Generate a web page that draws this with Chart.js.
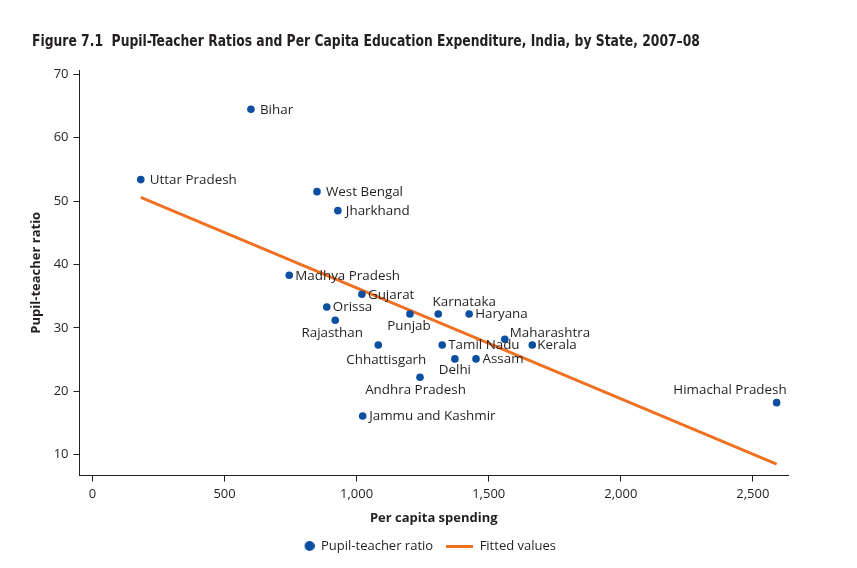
<!DOCTYPE html>
<html><head><meta charset="utf-8">
<script src="https://cdn.jsdelivr.net/npm/chart.js@4.4.1/dist/chart.umd.min.js"></script>
<style>
html,body{margin:0;padding:0;background:#fff;}
#wrap{position:relative;width:857px;height:568px;overflow:hidden;}
#title{position:absolute;left:32px;top:31px;font-family:"Liberation Sans Narrow","DejaVu Sans Condensed",sans-serif;font-weight:bold;font-size:15px;line-height:20px;color:#231f20;white-space:nowrap;transform:scaleX(0.916);transform-origin:0 50%;}
canvas{position:absolute;left:0;top:0;}
</style></head><body>
<div id="wrap"><canvas id="c" width="857" height="568"></canvas><div id="title">Figure 7.1&nbsp;&nbsp;Pupil-Teacher Ratios and Per Capita Education Expenditure, India, by State, 2007–08</div></div>
<script>
// ---- data ----
const states = ["Uttar Pradesh","Bihar","West Bengal","Jharkhand","Madhya Pradesh","Gujarat","Orissa","Rajasthan","Punjab","Karnataka","Haryana","Chhattisgarh","Tamil Nadu","Delhi","Assam","Maharashtra","Kerala","Andhra Pradesh","Jammu and Kashmir","Himachal Pradesh"];
const spending = [183, 600, 850, 929, 745, 1020, 887, 919, 1202, 1309, 1426, 1082, 1324, 1372, 1452, 1561, 1665, 1240, 1023, 2590];
const ratio = [53.4, 64.5, 51.5, 48.5, 38.3, 35.3, 33.3, 31.2, 32.2, 32.2, 32.2, 27.3, 27.3, 25.1, 25.1, 28.2, 27.3, 22.2, 16.1, 18.2];
const fittedX = [183, 2590];
const fittedY = [50.6, 8.5];
const xTickValues = [0, 500, 1000, 1500, 2000, 2500];
const yTickValues = [10, 20, 30, 40, 50, 60, 70];
const seriesNames = ["Pupil-teacher ratio", "Fitted values"];
const axisTitles = {x: "Per capita spending", y: "Pupil-teacher ratio"};

// label placement (style only): [textAlign, dx, dy]
const labelPlace = [
  ["left",9,0],["left",9,0],["left",9,0],["left",8,0],["left",6,0],["left",6,0],["left",6,0],
  ["center",-3,12],["center",-1,11.5],["center",26,-12],["left",6,0],["center",8,15],
  ["left",6,0],["center",0,10.5],["left",6.5,0],["left",5,-7],["left",5,0],
  ["center",-4.5,12.5],["left",6.5,0],["right",10,-12.5]
];

const BLUE = "#0b4ea2", ORANGE = "#f07022", INK = "#231f20";

function makeDot(){ const c=document.createElement('canvas'); c.width=27; c.height=12; const x=c.getContext('2d'); x.fillStyle=BLUE; x.beginPath(); x.arc(22,6,5,0,Math.PI*2); x.fill(); return c; }
function makeLine(){ const c=document.createElement('canvas'); c.width=27; c.height=3; const x=c.getContext('2d'); x.fillStyle=ORANGE; x.fillRect(0,0,27,3); return c; }

const labelPlugin = {
  id:'stateLabels',
  afterDatasetsDraw(chart){
    const meta = chart.getDatasetMeta(0);
    const ctx = chart.ctx;
    ctx.save();
    ctx.font = '13.4px "Open Sans"';
    ctx.fillStyle = INK;
    ctx.textBaseline = 'middle';
    meta.data.forEach((pt,i)=>{
      const p = labelPlace[i];
      ctx.textAlign = p[0];
      ctx.fillText(states[i], pt.x + p[1], pt.y + p[2] + 0.5);
    });
    ctx.restore();
  }
};
const legendShift = { id:'legendShift', afterLayout(chart){ const l=chart.legend; if(l){ l.left-=12; l.right-=12; } } };

function draw(){
  Chart.defaults.font.family = '"Open Sans", sans-serif';
  Chart.defaults.font.size = 13;
  Chart.defaults.color = INK;
  const dot = makeDot(), line = makeLine();
  new Chart(document.getElementById('c'), {
    type:'scatter',
    data:{ datasets:[
      { label: seriesNames[0], data: spending.map((v,i)=>({x:v,y:ratio[i]})), backgroundColor:BLUE, borderColor:BLUE, pointRadius:3.8, pointBorderWidth:0, order:0 },
      { type:'line', label: seriesNames[1], data: fittedX.map((v,i)=>({x:v,y:fittedY[i]})), borderColor:ORANGE, backgroundColor:ORANGE, borderWidth:2.8, pointRadius:0, fill:false, order:1 }
    ]},
    options:{
      responsive:false, animation:false, devicePixelRatio:1,
      layout:{ padding:{ left:22, right:69, top:70, bottom:5.5 } },
      plugins:{
        title:{display:false}, tooltip:{enabled:false},
        legend:{ position:'bottom', fullSize:false,
          labels:{ usePointStyle:true, pointStyleWidth:27, padding:13, color:INK, font:{size:13},
            generateLabels(chart){ const items = Chart.defaults.plugins.legend.labels.generateLabels(chart); items[0].pointStyle = dot; items[1].pointStyle = line; return items; } } }
      },
      scales:{
        x:{ type:'linear', min:-49, max:2633,
          afterBuildTicks(s){ s.ticks = xTickValues.map(v=>({value:v})); },
          afterFit(s){ s.height = 51; },
          grid:{ drawOnChartArea:false, drawTicks:true, tickLength:6, color:INK },
          border:{ display:true, color:INK, width:1 },
          ticks:{ padding:5, color:INK, callback:(v)=>Number(v).toLocaleString('en-US') },
          title:{ display:true, text:axisTitles.x, font:{weight:'bold', size:13}, color:INK, padding:{top:0,bottom:0} }
        },
        y:{ type:'linear', min:6.7, max:70.7,
          afterBuildTicks(s){ s.ticks = yTickValues.map(v=>({value:v})); },
          afterFit(s){ s.width = 57.5; },
          grid:{ drawOnChartArea:false, drawTicks:true, tickLength:6, color:INK },
          border:{ display:true, color:INK, width:1 },
          ticks:{ padding:5, color:INK },
          title:{ display:true, text:axisTitles.y, font:{weight:'bold', size:13}, color:INK, padding:{top:6,bottom:0} }
        }
      }
    },
    plugins:[labelPlugin, legendShift]
  });
}
Promise.all([document.fonts.load('13px "Open Sans"'), document.fonts.load('bold 13px "Open Sans"'), document.fonts.load('bold 16px "Liberation Sans Narrow"')]).then(draw, draw);
</script>
</body></html>
